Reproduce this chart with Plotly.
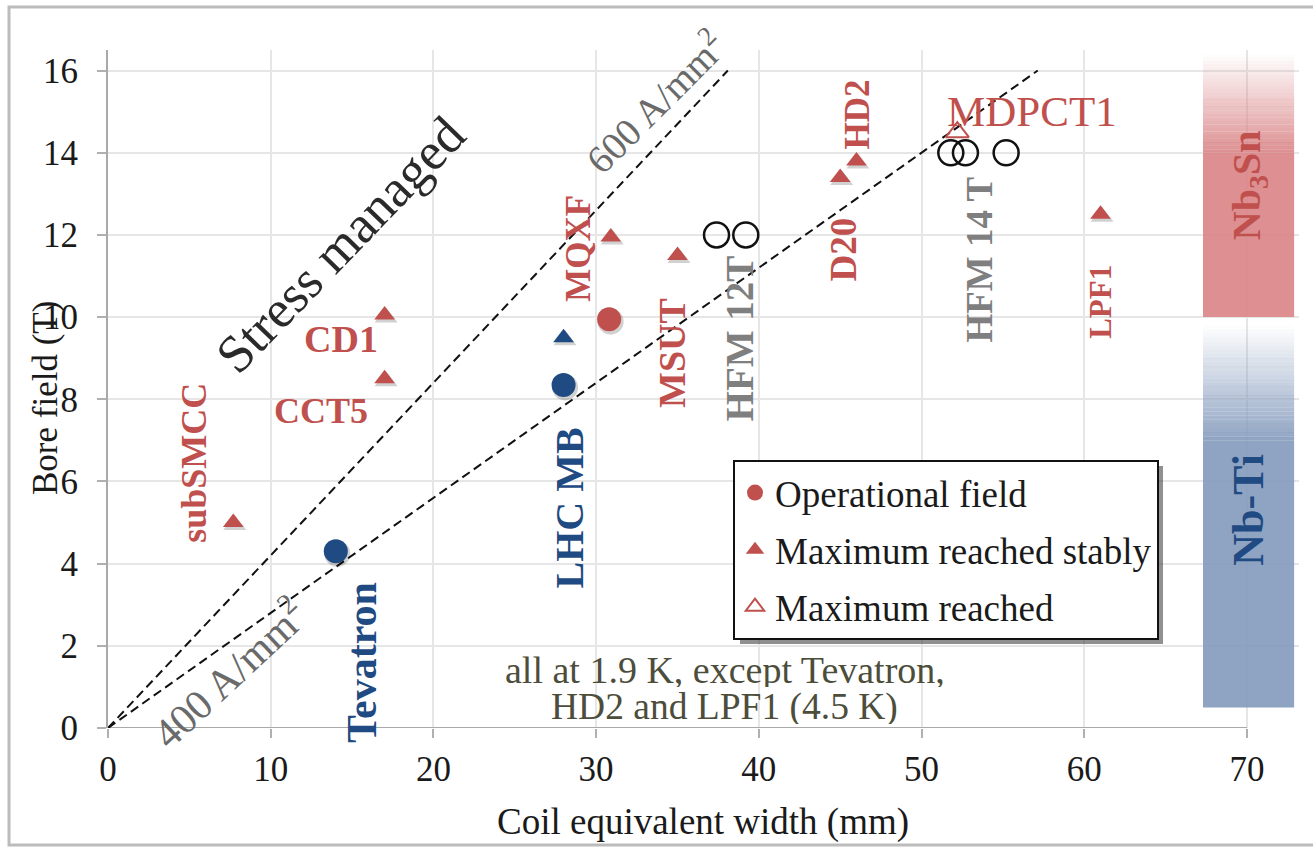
import plotly.graph_objects as go

# ---- data: coil equivalent width (mm) vs bore field (T) ----
op_name = ["Tevatron", "LHC MB", "MQXF"]
op_width = [14.0, 28.0, 30.8]
op_field = [4.3, 8.35, 9.95]
op_nbti = [True, True, False]

stab_name = ["subSMCC", "CCT5", "CD1", "LHC MB", "MQXF", "MSUT", "D20", "HD2", "LPF1"]
stab_width = [7.7, 17.0, 17.0, 28.0, 30.9, 35.0, 45.0, 46.0, 61.0]
stab_field = [5.0, 8.5, 10.05, 9.5, 11.95, 11.5, 13.4, 13.8, 12.5]
stab_nbti = [False, False, False, True, False, False, False, False, False]

max_name = ["MDPCT1"]
max_width = [52.2]
max_field = [14.5]

hfm12_width = [37.4, 39.2]
hfm12_field = [12.0, 12.0]
hfm14_width = [51.8, 52.7, 55.2]
hfm14_field = [14.0, 14.0, 14.0]

# engineering current density lines, B = k * J * w
current_density = [400, 600]          # A/mm^2
field_per_width = 0.0007              # T / (mm * A/mm^2)
line_top = 16.0                       # T

# superconductor bands (T)
nbti_band = (0.5, 9.8)
nb3sn_band = (10.0, 16.4)
band_width = (67.3, 72.9)

x_ticks = [0, 10, 20, 30, 40, 50, 60, 70]
y_ticks = [0, 2, 4, 6, 8, 10, 12, 14, 16]

RED = "#C0504D"
BLUE = "#1F4A82"
GREY_TXT = "#7f7f7f"
FONT = "Liberation Serif"

X_RANGE = [0, 73.2]
Y_RANGE = [0, 16.5]
MARGIN = dict(l=108, r=14, t=50, b=121)
W, H = 1313, 849
PX_X = (W - MARGIN["l"] - MARGIN["r"]) / (X_RANGE[1] - X_RANGE[0])
PX_Y = (H - MARGIN["t"] - MARGIN["b"]) / (Y_RANGE[1] - Y_RANGE[0])


def px_to_paper(px, py):
    """Canvas pixel -> paper coordinates."""
    pw = W - MARGIN["l"] - MARGIN["r"]
    ph = H - MARGIN["t"] - MARGIN["b"]
    return (px - MARGIN["l"]) / pw, (H - MARGIN["b"] - py) / ph


fig = go.Figure()

# current density reference lines
for j in current_density:
    slope = field_per_width * j
    fig.add_trace(go.Scatter(
        x=[0, line_top / slope], y=[0, line_top], mode="lines",
        line=dict(color="#111111", width=2, dash="9px,5px"),
        showlegend=False, hoverinfo="skip"))


def pick(vals, mask, keep):
    return [v for v, m in zip(vals, mask) if m == keep]


def shadow(xs, ys, symbol, size):
    """Soft drop shadow under filled markers."""
    fig.add_trace(go.Scatter(
        x=[v + 1.5 / PX_X for v in xs], y=[v - 2.5 / PX_Y for v in ys],
        mode="markers", showlegend=False, hoverinfo="skip",
        marker=dict(symbol=symbol, size=size + 2, color="rgba(0,0,0,0.18)")))


shadow(op_width, op_field, "circle", 24)
shadow(stab_width, stab_field, "triangle-up", 18)

# operational field
fig.add_trace(go.Scatter(
    x=pick(op_width, op_nbti, False), y=pick(op_field, op_nbti, False),
    mode="markers", name="Operational field", legendgroup="a",
    marker=dict(symbol="circle", size=24, color=RED)))
fig.add_trace(go.Scatter(
    x=pick(op_width, op_nbti, True), y=pick(op_field, op_nbti, True),
    mode="markers", showlegend=False,
    marker=dict(symbol="circle", size=24, color=BLUE)))

# maximum reached stably
fig.add_trace(go.Scatter(
    x=pick(stab_width, stab_nbti, False), y=pick(stab_field, stab_nbti, False),
    mode="markers", name="Maximum reached stably", legendgroup="b",
    marker=dict(symbol="triangle-up", size=18, color=RED)))
fig.add_trace(go.Scatter(
    x=pick(stab_width, stab_nbti, True), y=pick(stab_field, stab_nbti, True),
    mode="markers", showlegend=False,
    marker=dict(symbol="triangle-up", size=18, color=BLUE)))

# HFM programme targets
fig.add_trace(go.Scatter(
    x=hfm12_width + hfm14_width, y=hfm12_field + hfm14_field,
    mode="markers", showlegend=False,
    marker=dict(symbol="circle-open", size=25, color="#111111", line=dict(width=2.5))))

# maximum reached
fig.add_trace(go.Scatter(
    x=max_width, y=max_field, mode="markers", name="Maximum reached", legendgroup="c",
    marker=dict(symbol="triangle-up-open", size=20, color=RED, line=dict(width=2))))

# ---- labels, offset in pixels from their magnet ----
label_style = {
    # name: (dx, dy, angle, colour, bold, size)
    "subSMCC": (-40, 60, -90, RED, True, 36),
    "CCT5": (-64, -32, 0, RED, True, 36),
    "CD1": (-44, -24, 0, RED, True, 38),
    "MQXF": (-32, -11, -90, RED, True, 35),
    "MSUT": (-5, -97, -90, RED, True, 38),
    "D20": (3, -72, -90, RED, True, 37),
    "HD2": (2, 47, -90, RED, True, 35),
    "LPF1": (0, -88, -90, RED, True, 31),
}
annotations = []


def label(text, x, y, dx, dy, angle, color, bold=True, size=35):
    t = f"<b>{text}</b>" if bold else text
    annotations.append(dict(
        x=x, y=y, xref="x", yref="y", text=t, showarrow=False,
        xshift=dx, yshift=dy, textangle=angle,
        font=dict(family=FONT, size=size, color=color),
        xanchor="center", yanchor="middle"))


for n, w, b in zip(stab_name, stab_width, stab_field):
    if n in label_style:
        dx, dy, ang, col, bold, sz = label_style[n]
        label(n, w, b, dx, dy, ang, col, bold, sz)

op_label = {"Tevatron": (27, -111, 42), "LHC MB": (6, -123, 40)}
for n, w, b in zip(op_name, op_width, op_field):
    if n in op_label:
        dx, dy, sz = op_label[n]
        label(n, w, b, dx, dy, -90, BLUE, True, sz)

label(max_name[0], max_width[0], max_field[0], 75, 21, 0, RED, bold=False, size=43)
label("HFM 12T", hfm12_width[0], hfm12_field[0], 23, -104, -90, GREY_TXT, True, 39)
label("HFM 14 T", hfm14_width[0], hfm14_field[0], 29, -107, -90, GREY_TXT, True, 37)


def free_text(x, y, text, size, color, angle=0, xref="x", yref="y", height=None):
    ann = dict(x=x, y=y, xref=xref, yref=yref, showarrow=False,
               text=text, textangle=angle, xanchor="center", yanchor="middle",
               font=dict(family=FONT, size=size, color=color))
    if height is not None:
        ann["height"] = height
    annotations.append(ann)


# current density line labels
free_text(33.6, 15.25, "600 A/mm<sup>2</sup>", 39, "#6a6a6a", -45)
free_text(7.4, 1.35, "400 A/mm<sup>2</sup>", 42, "#6a6a6a", -43)
free_text(14.26, 11.75, "Stress managed", 53, "#2a2a2a", -46)

# temperature note, two tightly spaced lines
free_text(37.9, 1.4, "all at 1.9 K, except Tevatron,", 38, "#4d4d3b", height=34)
free_text(37.9, 0.52, "HD2 and LPF1 (4.5 K)", 37.5, "#4d4d3b", height=34)

# band labels
band_mid = sum(band_width) / 2
free_text(band_mid, 13.2, "<b>Nb<sub>3</sub>Sn</b>", 40, RED, -90)
free_text(band_mid, 5.3, "<b>Nb-Ti</b>", 44, BLUE, -90)

# axis titles
tx, ty = px_to_paper(703, 822)
free_text(tx, ty, "Coil equivalent width (mm)", 37, "#1a1a1a", 0, "paper", "paper")
tx, ty = px_to_paper(45, 398)
free_text(tx, ty, "Bore field (T)", 35, "#1a1a1a", -90, "paper", "paper")

# ---- shapes ----
shapes = []


def gradient_band(y0, y1, fade_to, rgb, n=28):
    """Solid block that fades to white towards its top edge."""
    x0, x1 = band_width
    shapes.append(dict(type="rect", xref="x", yref="y", x0=x0, x1=x1,
                       y0=y0, y1=fade_to, line=dict(width=0),
                       fillcolor=f"rgba({rgb[0]},{rgb[1]},{rgb[2]},0.92)", layer="between"))
    h = (y1 - fade_to) / n
    for i in range(n):
        ya = fade_to + i * h
        a = 1 - (i + 0.5) / n
        shapes.append(dict(type="rect", xref="x", yref="y", x0=x0, x1=x1,
                           y0=ya, y1=ya + h * 1.02, line=dict(width=0),
                           fillcolor=f"rgba({rgb[0]},{rgb[1]},{rgb[2]},{0.92 * a:.3f})",
                           layer="between"))


gradient_band(nb3sn_band[0], nb3sn_band[1], 14.0, (218, 134, 136))
gradient_band(nbti_band[0], nbti_band[1], 7.0, (134, 156, 189))

# x axis baseline up to the last tick
shapes.append(dict(type="line", xref="x", yref="y", x0=0, x1=x_ticks[-1], y0=0, y1=0,
                   line=dict(color="#a9a9a9", width=2), layer="between"))

# legend drop shadow (thin strip right and below the legend box)
lx0, ly0 = px_to_paper(740, 644)
lx1, ly1 = px_to_paper(1163, 466)
shapes.append(dict(type="rect", xref="paper", yref="paper", x0=lx0, x1=lx1, y0=ly0, y1=ly1,
                   line=dict(width=0), fillcolor="rgba(70,70,70,0.6)", layer="above"))

# outer frame
fx0, fy0 = px_to_paper(9, 845)
fx1, fy1 = px_to_paper(1330, 7)
shapes.append(dict(type="rect", xref="paper", yref="paper", x0=fx0, x1=fx1, y0=fy0, y1=fy1,
                   line=dict(color="#bcbcbc", width=3), layer="below"))

lgx, lgy = px_to_paper(733, 460)
fig.update_layout(
    width=W, height=H,
    margin=MARGIN,
    paper_bgcolor="white", plot_bgcolor="white",
    font=dict(family=FONT, size=34, color="#1a1a1a"),
    showlegend=True,
    legend=dict(x=lgx, y=lgy, xanchor="left", yanchor="top",
                bgcolor="white", bordercolor="#111111", borderwidth=2,
                font=dict(family=FONT, size=37, color="#1a1a1a"),
                tracegroupgap=6, traceorder="grouped"),
    annotations=annotations,
    shapes=shapes,
    xaxis=dict(range=X_RANGE, tickvals=x_ticks, showgrid=True, gridcolor="#e6e6e6",
               gridwidth=2, zeroline=False, showline=False, ticks="outside",
               ticklen=9, tickwidth=2, tickcolor="#b0b0b0",
               tickfont=dict(family=FONT, size=35, color="#1a1a1a"),
               ticklabelstandoff=1),
    yaxis=dict(range=Y_RANGE, tickvals=y_ticks, showgrid=True, gridcolor="#e6e6e6",
               gridwidth=2, zeroline=False, showline=True, linecolor="#a9a9a9",
               linewidth=2, ticks="outside", ticklen=9, tickwidth=2, tickcolor="#b0b0b0",
               tickfont=dict(family=FONT, size=35, color="#1a1a1a"),
               ticklabelstandoff=12),
)

fig.write_html("out.html")
